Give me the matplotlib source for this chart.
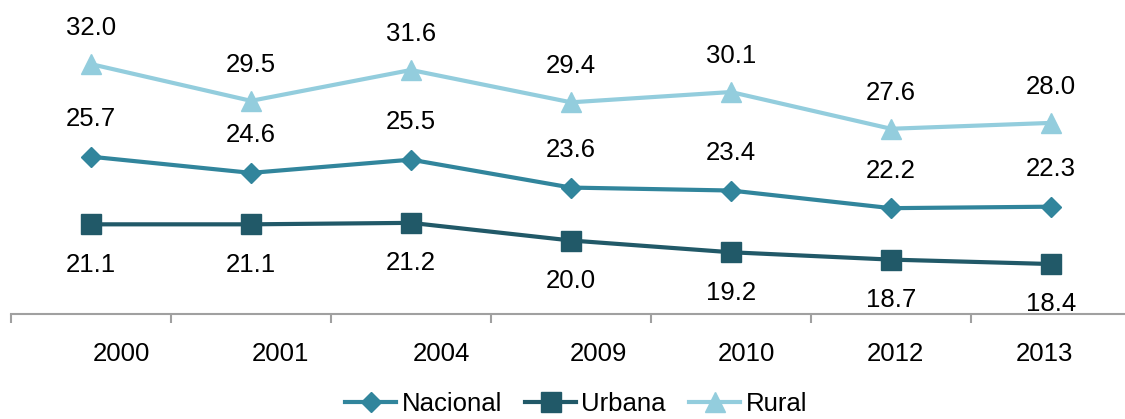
import matplotlib.pyplot as plt
import matplotlib.transforms as mtransforms
import numpy as np

plt.rcParams['font.family'] = ['Liberation Sans', 'DejaVu Sans']

years = ['2000', '2001', '2004', '2009', '2010', '2012', '2013']
nacional = [25.7, 24.6, 25.5, 23.6, 23.4, 22.2, 22.3]
urbana = [21.1, 21.1, 21.2, 20.0, 19.2, 18.7, 18.4]
rural = [32.0, 29.5, 31.6, 29.4, 30.1, 27.6, 28.0]

c_nac = '#31859C'
c_urb = '#215968'
c_rur = '#93CDDD'

fig = plt.figure(figsize=(11.25, 4.19), dpi=100)
ax = fig.add_axes([11 / 1125, 105 / 419, 1120 / 1125, 308.7 / 419])

x = np.arange(len(years))
ax.plot(x, nacional, color=c_nac, lw=3, marker='D', ms=10, label='Nacional', zorder=3)
ax.plot(x, urbana, color=c_urb, lw=3, marker='s', ms=14, label='Urbana', zorder=3)
ax.plot(x, rural, color=c_rur, lw=3, marker='^', ms=14, label='Rural', zorder=3)

fs = 18.5
for i in x:
    ax.annotate(f'{rural[i]:.1f}', (i, rural[i]), xytext=(0, 26), textcoords='offset points',
                ha='center', va='center', fontsize=fs)
    ax.annotate(f'{nacional[i]:.1f}', (i, nacional[i]), xytext=(0, 27), textcoords='offset points',
                ha='center', va='center', fontsize=fs)
    ax.annotate(f'{urbana[i]:.1f}', (i, urbana[i]), xytext=(0, -29), textcoords='offset points',
                ha='center', va='center', fontsize=fs)

ax.set_xlim(-0.5, len(years) - 0.5)
ax.set_ylim(15, 36)

for s in ['top', 'right', 'left']:
    ax.spines[s].set_visible(False)
ax.spines['bottom'].set_color('#a0a0a0')
ax.spines['bottom'].set_linewidth(1.5)
ax.set_yticks([])

# boundary ticks without labels, labels at category centres
ax.set_xticks(np.arange(len(years) + 1) - 0.5)
ax.set_xticklabels([])
ax.tick_params(axis='x', which='major', length=6.5, width=1.5, color='#a0a0a0', direction='out')
ax.set_xticks(x, minor=True)
ax.set_xticklabels(years, minor=True, fontsize=fs)
ax.tick_params(axis='x', which='minor', length=0, pad=20)

# year labels sit a little to the right of their categories
shift_px = [30, 29, 30, 27, 15, 4, -7]
for lab, dx in zip(ax.get_xticklabels(minor=True), shift_px):
    lab.set_transform(lab.get_transform() +
                      mtransforms.ScaledTranslation(dx / 100, 0, fig.dpi_scale_trans))

fig.legend(loc='center', bbox_to_anchor=(576 / 1125, 1 - 404 / 419), ncol=3, frameon=False,
           fontsize=fs, handlelength=2.0, handletextpad=0.2, columnspacing=0.9, borderaxespad=0)

fig.savefig('out.png', dpi=100)
